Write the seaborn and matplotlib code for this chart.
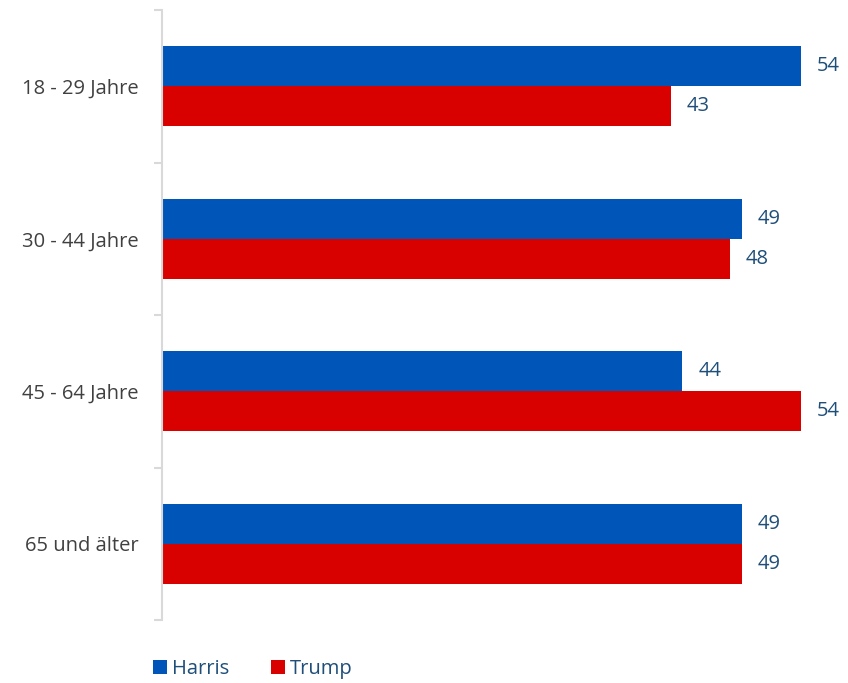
import matplotlib
matplotlib.use("Agg")
import matplotlib.pyplot as plt
import seaborn as sns
import pandas as pd
from matplotlib.patches import Patch
from matplotlib.ticker import FixedLocator

categories = ["18 - 29 Jahre", "30 - 44 Jahre", "45 - 64 Jahre", "65 und älter"]
harris = [54, 49, 44, 49]
trump = [43, 48, 54, 49]
series = ["Harris", "Trump"]
colors = {"Harris": "#0055B8", "Trump": "#D90000"}
label_color = "#1F4E79"

df = pd.DataFrame({
    "cat": categories * 2,
    "val": harris + trump,
    "who": ["Harris"] * 4 + ["Trump"] * 4,
})

sns.set_theme(style="white")
plt.rcParams["font.family"] = ["Open Sans", "DejaVu Sans"]

fig = plt.figure(figsize=(8.48, 6.83), dpi=100)
ax = fig.add_axes([162 / 848, 1 - 620 / 683, 1 - 162 / 848, (620 - 10) / 683])

sns.barplot(data=df, y="cat", x="val", hue="who", orient="h", palette=colors,
            width=0.525, gap=0, ax=ax, legend=False, saturation=1,
            edgecolor="none", linewidth=0)

for cont in ax.containers:
    ax.bar_label(cont, labels=[f"{v:.0f}" for v in cont.datavalues], padding=11.5,
                 color=label_color, fontsize=14.5)

ax.set_xlim(0, 58)
ax.set_ylim(3.5, -0.5)
ax.set_xlabel("")
ax.set_ylabel("")
ax.set_xticks([])
ax.tick_params(axis="y", which="major", length=0, labelsize=14.5, labelcolor="#404040", pad=17)
ax.yaxis.set_minor_locator(FixedLocator([-0.5, 0.5, 1.5, 2.5, 3.5]))
ax.tick_params(axis="y", which="minor", length=6, width=1.5, color="#D9D9D9", left=True)
for s in ["top", "right", "bottom"]:
    ax.spines[s].set_visible(False)
ax.spines["left"].set_color("#D9D9D9")
ax.spines["left"].set_linewidth(1.5)

handles = [Patch(facecolor=colors[s], edgecolor="none") for s in series]
fig.legend(handles, series, loc="center left", bbox_to_anchor=(135 / 848, 1 - 669 / 683),
           ncol=2, frameon=False, fontsize=14.5, labelcolor=label_color,
           handlelength=0.7, handleheight=0.7, handletextpad=0.25, columnspacing=2.05)

fig.savefig("out.png", dpi=100)
